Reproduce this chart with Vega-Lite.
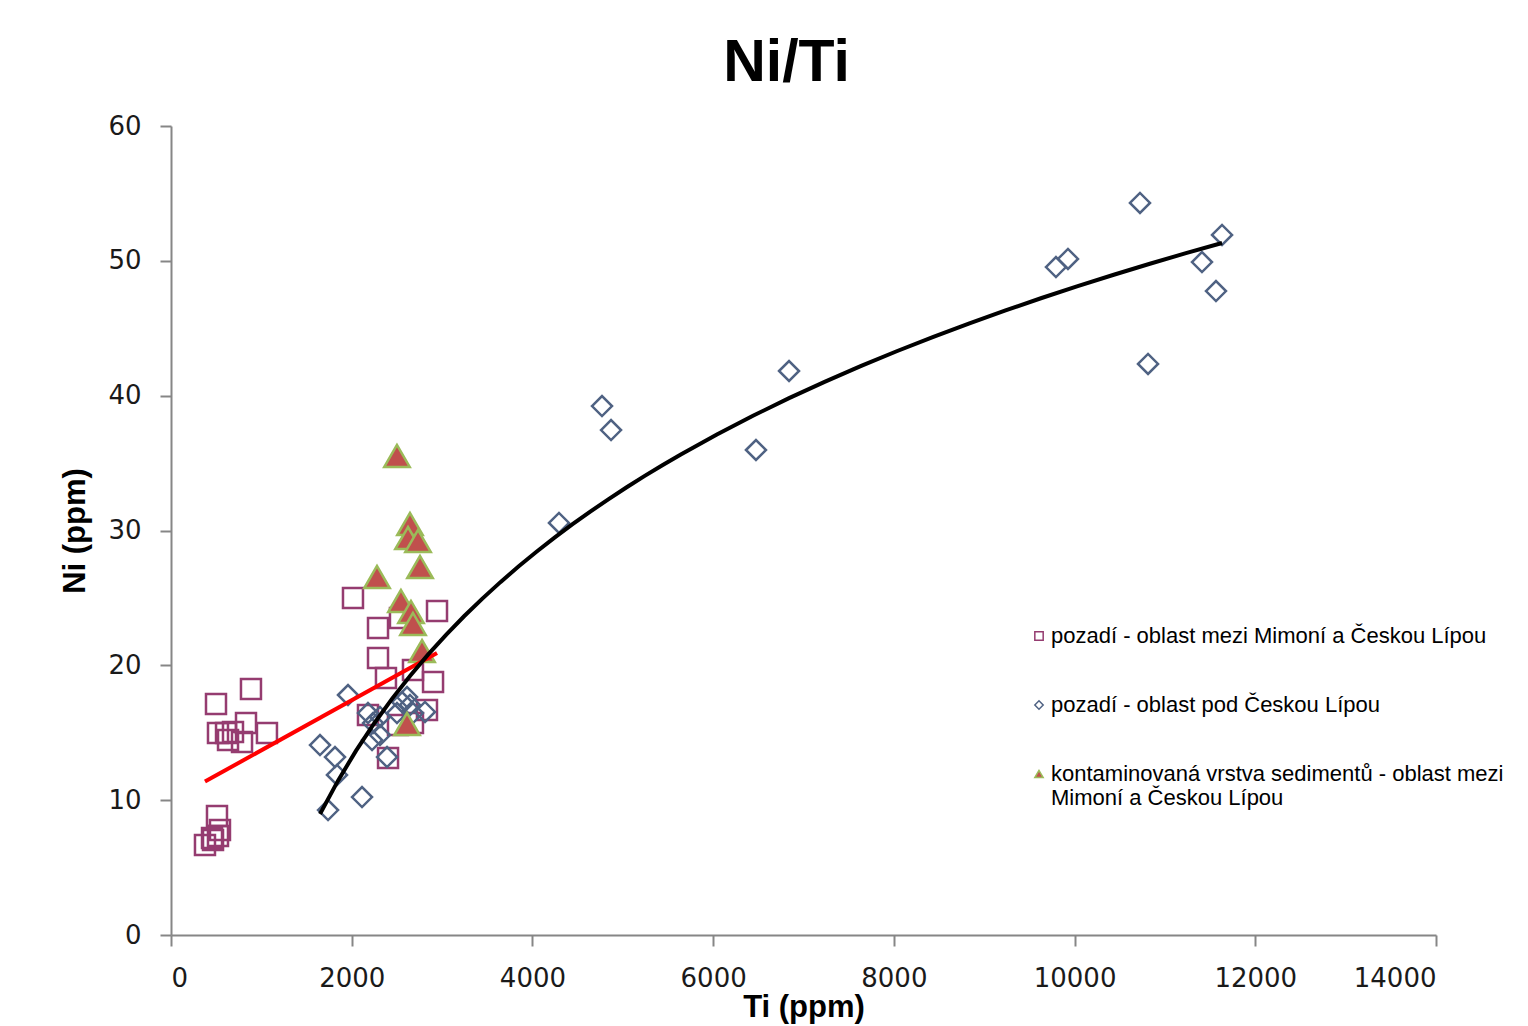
{
  "$schema": "https://vega.github.io/schema/vega-lite/v6.json",
  "width": 1265,
  "height": 809,
  "autosize": {"type": "none"},
  "padding": {"left": 171, "top": 126, "right": 92, "bottom": 91},
  "background": "white",
  "title": {"text": "Ni/Ti", "font": "Liberation Sans", "fontSize": 59, "fontWeight": "bold", "color": "#000000", "anchor": "middle", "dx": -17, "offset": 20},
  "config": {
    "view": {"stroke": null},
    "axis": {
      "grid": false,
      "domainColor": "#868686",
      "domainWidth": 2,
      "tickColor": "#868686",
      "tickWidth": 2,
      "tickSize": 11,
      "labelFont": "DejaVu Sans",
      "labelFontSize": 26,
      "labelColor": "#1a1a1a",
      "titleFont": "Liberation Sans",
      "titleFontSize": 31,
      "titleFontWeight": "bold",
      "titleColor": "#000000"
    }
  },
  "data": {
    "values": [
      {"s": "pozadí - oblast mezi Mimoní a Českou Lípou", "Ti": 498, "Ni": 17.13},
      {"s": "pozadí - oblast mezi Mimoní a Českou Lípou", "Ti": 885, "Ni": 18.24},
      {"s": "pozadí - oblast mezi Mimoní a Českou Lípou", "Ti": 520, "Ni": 14.98},
      {"s": "pozadí - oblast mezi Mimoní a Českou Lípou", "Ti": 609, "Ni": 14.98},
      {"s": "pozadí - oblast mezi Mimoní a Českou Lípou", "Ti": 686, "Ni": 15.06},
      {"s": "pozadí - oblast mezi Mimoní a Českou Lípou", "Ti": 631, "Ni": 14.46},
      {"s": "pozadí - oblast mezi Mimoní a Českou Lípou", "Ti": 830, "Ni": 15.72},
      {"s": "pozadí - oblast mezi Mimoní a Českou Lípou", "Ti": 786, "Ni": 14.31},
      {"s": "pozadí - oblast mezi Mimoní a Českou Lípou", "Ti": 1062, "Ni": 14.98},
      {"s": "pozadí - oblast mezi Mimoní a Českou Lípou", "Ti": 509, "Ni": 8.83},
      {"s": "pozadí - oblast mezi Mimoní a Českou Lípou", "Ti": 542, "Ni": 7.79},
      {"s": "pozadí - oblast mezi Mimoní a Českou Lípou", "Ti": 376, "Ni": 6.67},
      {"s": "pozadí - oblast mezi Mimoní a Českou Lípou", "Ti": 465, "Ni": 7.05},
      {"s": "pozadí - oblast mezi Mimoní a Českou Lípou", "Ti": 520, "Ni": 7.34},
      {"s": "pozadí - oblast mezi Mimoní a Českou Lípou", "Ti": 454, "Ni": 7.19},
      {"s": "pozadí - oblast mezi Mimoní a Českou Lípou", "Ti": 2014, "Ni": 24.99},
      {"s": "pozadí - oblast mezi Mimoní a Českou Lípou", "Ti": 2944, "Ni": 24.03},
      {"s": "pozadí - oblast mezi Mimoní a Českou Lípou", "Ti": 2291, "Ni": 22.77},
      {"s": "pozadí - oblast mezi Mimoní a Českou Lípou", "Ti": 2534, "Ni": 23.51},
      {"s": "pozadí - oblast mezi Mimoní a Českou Lípou", "Ti": 2291, "Ni": 20.54},
      {"s": "pozadí - oblast mezi Mimoní a Českou Lípou", "Ti": 2379, "Ni": 19.06},
      {"s": "pozadí - oblast mezi Mimoní a Českou Lípou", "Ti": 2678, "Ni": 19.65},
      {"s": "pozadí - oblast mezi Mimoní a Českou Lípou", "Ti": 2900, "Ni": 18.76},
      {"s": "pozadí - oblast mezi Mimoní a Českou Lípou", "Ti": 2180, "Ni": 16.32},
      {"s": "pozadí - oblast mezi Mimoní a Českou Lípou", "Ti": 2402, "Ni": 13.13},
      {"s": "pozadí - oblast mezi Mimoní a Českou Lípou", "Ti": 2512, "Ni": 15.57},
      {"s": "pozadí - oblast mezi Mimoní a Českou Lípou", "Ti": 2833, "Ni": 16.69},
      {"s": "pozadí - oblast mezi Mimoní a Českou Lípou", "Ti": 2678, "Ni": 15.72},
      {"s": "pozadí - oblast pod Českou Lípou", "Ti": 10724, "Ni": 54.29},
      {"s": "pozadí - oblast pod Českou Lípou", "Ti": 11632, "Ni": 51.92},
      {"s": "pozadí - oblast pod Českou Lípou", "Ti": 9794, "Ni": 49.54},
      {"s": "pozadí - oblast pod Českou Lípou", "Ti": 9927, "Ni": 50.14},
      {"s": "pozadí - oblast pod Českou Lípou", "Ti": 11410, "Ni": 49.91},
      {"s": "pozadí - oblast pod Českou Lípou", "Ti": 11565, "Ni": 47.76},
      {"s": "pozadí - oblast pod Českou Lípou", "Ti": 10813, "Ni": 42.35},
      {"s": "pozadí - oblast pod Českou Lípou", "Ti": 6840, "Ni": 41.83},
      {"s": "pozadí - oblast pod Českou Lípou", "Ti": 4770, "Ni": 39.23},
      {"s": "pozadí - oblast pod Českou Lípou", "Ti": 4870, "Ni": 37.45},
      {"s": "pozadí - oblast pod Českou Lípou", "Ti": 6474, "Ni": 35.97},
      {"s": "pozadí - oblast pod Českou Lípou", "Ti": 4294, "Ni": 30.56},
      {"s": "pozadí - oblast pod Českou Lípou", "Ti": 1959, "Ni": 17.80},
      {"s": "pozadí - oblast pod Českou Lípou", "Ti": 1649, "Ni": 14.09},
      {"s": "pozadí - oblast pod Českou Lípou", "Ti": 1815, "Ni": 13.20},
      {"s": "pozadí - oblast pod Českou Lípou", "Ti": 1837, "Ni": 11.87},
      {"s": "pozadí - oblast pod Českou Lípou", "Ti": 2114, "Ni": 10.23},
      {"s": "pozadí - oblast pod Českou Lípou", "Ti": 1738, "Ni": 9.27},
      {"s": "pozadí - oblast pod Českou Lípou", "Ti": 2180, "Ni": 16.46},
      {"s": "pozadí - oblast pod Českou Lípou", "Ti": 2236, "Ni": 15.72},
      {"s": "pozadí - oblast pod Českou Lípou", "Ti": 2225, "Ni": 14.46},
      {"s": "pozadí - oblast pod Českou Lípou", "Ti": 2313, "Ni": 14.83},
      {"s": "pozadí - oblast pod Českou Lípou", "Ti": 2391, "Ni": 13.20},
      {"s": "pozadí - oblast pod Českou Lípou", "Ti": 2557, "Ni": 17.28},
      {"s": "pozadí - oblast pod Českou Lípou", "Ti": 2612, "Ni": 17.65},
      {"s": "pozadí - oblast pod Českou Lípou", "Ti": 2811, "Ni": 16.54},
      {"s": "pozadí - oblast pod Českou Lípou", "Ti": 2501, "Ni": 16.46},
      {"s": "pozadí - oblast pod Českou Lípou", "Ti": 2678, "Ni": 16.46},
      {"s": "pozadí - oblast pod Českou Lípou", "Ti": 2313, "Ni": 16.17},
      {"s": "pozadí - oblast pod Českou Lípou", "Ti": 2645, "Ni": 17.06},
      {"s": "kontaminovaná vrstva sedimentů - oblast mezi Mimoní a Českou Lípou", "Ti": 2501, "Ni": 35.53},
      {"s": "kontaminovaná vrstva sedimentů - oblast mezi Mimoní a Českou Lípou", "Ti": 2645, "Ni": 30.48},
      {"s": "kontaminovaná vrstva sedimentů - oblast mezi Mimoní a Českou Lípou", "Ti": 2623, "Ni": 29.44},
      {"s": "kontaminovaná vrstva sedimentů - oblast mezi Mimoní a Českou Lípou", "Ti": 2734, "Ni": 29.22},
      {"s": "kontaminovaná vrstva sedimentů - oblast mezi Mimoní a Českou Lípou", "Ti": 2756, "Ni": 27.29},
      {"s": "kontaminovaná vrstva sedimentů - oblast mezi Mimoní a Českou Lípou", "Ti": 2280, "Ni": 26.55},
      {"s": "kontaminovaná vrstva sedimentů - oblast mezi Mimoní a Českou Lípou", "Ti": 2545, "Ni": 24.77},
      {"s": "kontaminovaná vrstva sedimentů - oblast mezi Mimoní a Českou Lípou", "Ti": 2656, "Ni": 23.96},
      {"s": "kontaminovaná vrstva sedimentů - oblast mezi Mimoní a Českou Lípou", "Ti": 2678, "Ni": 23.07},
      {"s": "kontaminovaná vrstva sedimentů - oblast mezi Mimoní a Českou Lípou", "Ti": 2778, "Ni": 21.06},
      {"s": "kontaminovaná vrstva sedimentů - oblast mezi Mimoní a Českou Lípou", "Ti": 2612, "Ni": 15.65}
    ]
  },
  "layer": [
    {
      "transform": [{"filter": "datum.s != 'kontaminovaná vrstva sedimentů - oblast mezi Mimoní a Českou Lípou'"}],
      "mark": {"type": "point", "strokeWidth": 2.5, "opacity": 1, "size": 400},
      "encoding": {
        "x": {"field": "Ti", "type": "quantitative", "scale": {"domain": [0, 14000], "nice": false}, "axis": {"title": "Ti (ppm)", "values": [0, 2000, 4000, 6000, 8000, 10000, 12000, 14000], "format": "d", "labelPadding": 19, "titlePadding": 1}},
        "y": {"field": "Ni", "type": "quantitative", "scale": {"domain": [0, 60], "nice": false}, "axis": {"title": "Ni (ppm)", "values": [0, 10, 20, 30, 40, 50, 60], "labelPadding": 19, "titlePadding": 16}},
        "shape": {"field": "s", "type": "nominal", "scale": {"domain": ["pozadí - oblast mezi Mimoní a Českou Lípou", "pozadí - oblast pod Českou Lípou", "kontaminovaná vrstva sedimentů - oblast mezi Mimoní a Českou Lípou"], "range": ["square", "diamond", "triangle-up"]}, "legend": {"title": null, "orient": "none", "legendX": 857, "legendY": 499, "symbolSize": 70, "symbolStrokeWidth": 1.5, "labelFont": "Liberation Sans", "labelFontSize": 22, "labelColor": "#000000", "labelLimit": 700, "labelOffset": 1, "rowPadding": 47, "labelExpr": "datum.label == 'kontaminovaná vrstva sedimentů - oblast mezi Mimoní a Českou Lípou' ? ['kontaminovaná vrstva sedimentů - oblast mezi', 'Mimoní a Českou Lípou'] : datum.label"}},
        "stroke": {"field": "s", "type": "nominal", "scale": {"domain": ["pozadí - oblast mezi Mimoní a Českou Lípou", "pozadí - oblast pod Českou Lípou", "kontaminovaná vrstva sedimentů - oblast mezi Mimoní a Českou Lípou"], "range": ["#953c70", "#4f6283", "#9bbb59"]}},
        "fill": {"field": "s", "type": "nominal", "scale": {"domain": ["pozadí - oblast mezi Mimoní a Českou Lípou", "pozadí - oblast pod Českou Lípou", "kontaminovaná vrstva sedimentů - oblast mezi Mimoní a Českou Lípou"], "range": ["rgba(0,0,0,0)", "rgba(0,0,0,0)", "#c0504d"]}}
      }
    },
    {
      "transform": [{"filter": "datum.s == 'kontaminovaná vrstva sedimentů - oblast mezi Mimoní a Českou Lípou'"}],
      "mark": {"type": "point", "strokeWidth": 2.5, "opacity": 1, "size": 650},
      "encoding": {
        "x": {"field": "Ti", "type": "quantitative"},
        "y": {"field": "Ni", "type": "quantitative"},
        "shape": {"field": "s", "type": "nominal"},
        "stroke": {"field": "s", "type": "nominal"},
        "fill": {"field": "s", "type": "nominal"}
      }
    },
    {
      "transform": [
        {"filter": "datum.s == 'pozadí - oblast mezi Mimoní a Českou Lípou'"},
        {"regression": "Ni", "on": "Ti", "method": "linear"}
      ],
      "mark": {"type": "line", "color": "#ff0000", "strokeWidth": 4},
      "encoding": {
        "x": {"field": "Ti", "type": "quantitative"},
        "y": {"field": "Ni", "type": "quantitative"}
      }
    },
    {
      "transform": [
        {"filter": "datum.s == 'pozadí - oblast pod Českou Lípou'"},
        {"regression": "Ni", "on": "Ti", "method": "log"}
      ],
      "mark": {"type": "line", "color": "#000000", "strokeWidth": 4},
      "encoding": {
        "x": {"field": "Ti", "type": "quantitative"},
        "y": {"field": "Ni", "type": "quantitative"}
      }
    }
  ]
}
